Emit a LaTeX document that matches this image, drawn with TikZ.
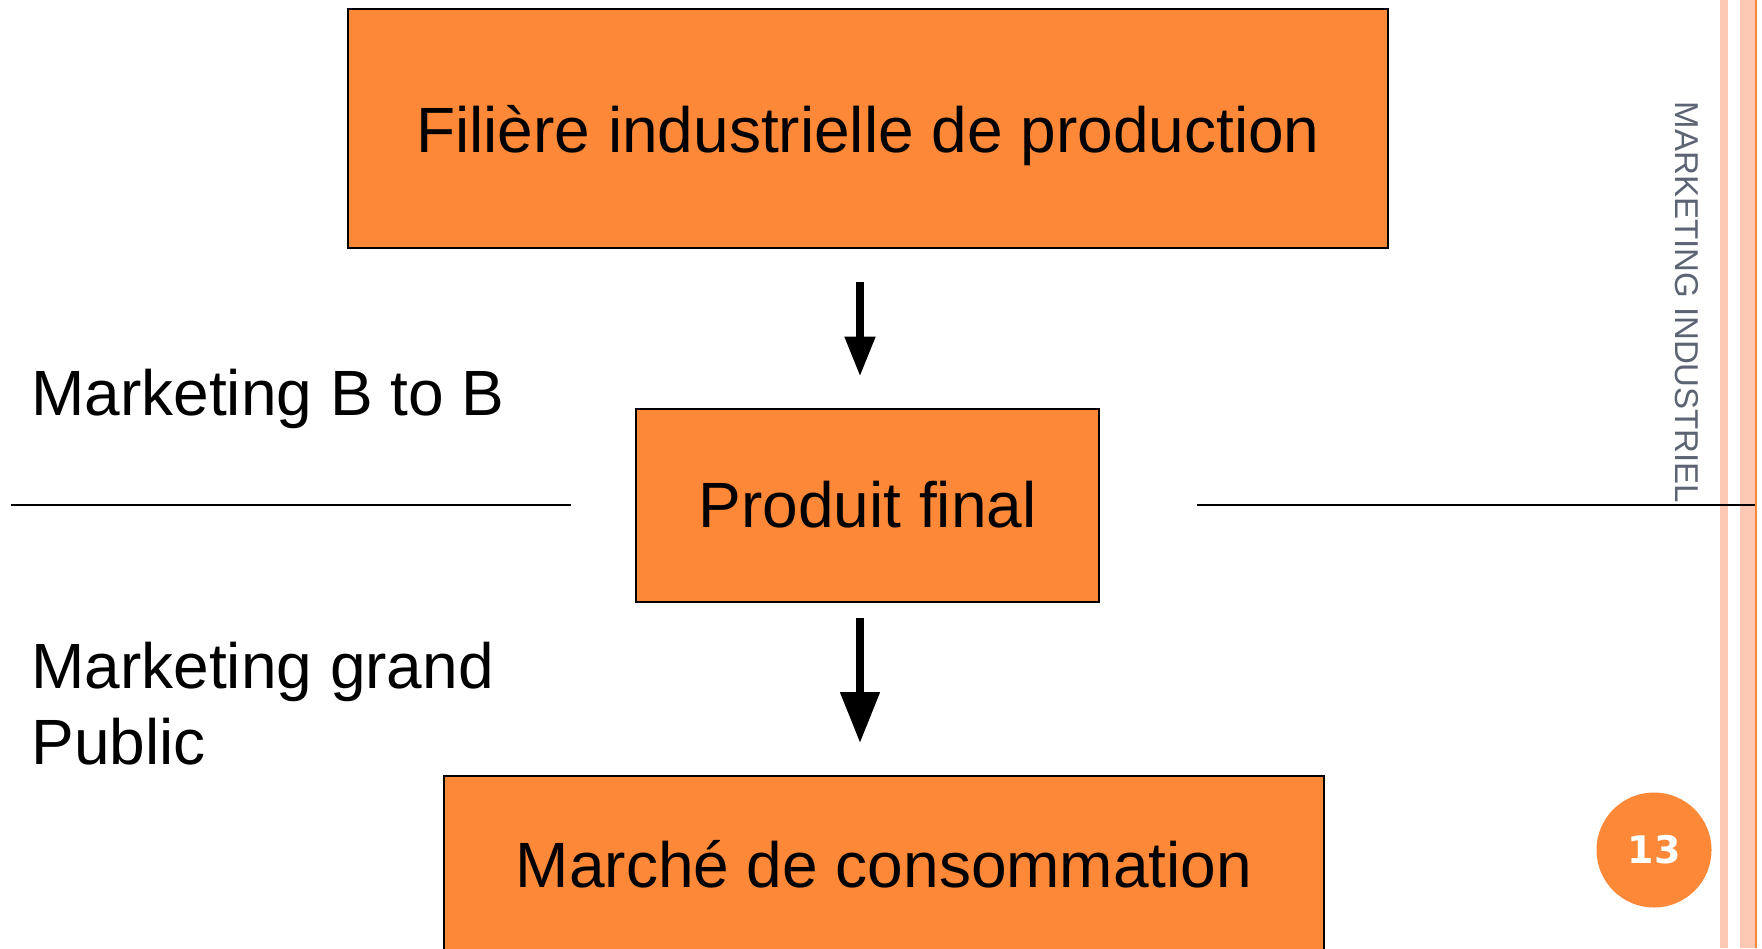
\documentclass[tikz,border=0pt]{standalone}
\usepackage{fontspec}
\setmainfont{Liberation Sans}
\newfontfamily\numfont{DejaVu Sans}
\usetikzlibrary{arrows.meta}
\definecolor{boxorange}{RGB}{253,136,56}
\definecolor{stripe}{RGB}{252,200,180}
\definecolor{sidegray}{RGB}{92,100,116}
\tikzset{
  flowbox/.style={draw=black, line width=1pt, fill=boxorange, inner sep=0pt, font=\fontsize{32}{38}\selectfont},
  sidelabel/.style={anchor=base west, inner sep=0pt, align=left, font=\fontsize{32}{38}\selectfont},
  sepline/.style={line width=1.1pt, black},
}
\begin{document}
\begin{tikzpicture}[x=0.5pt, y=-0.5pt]
\useasboundingbox (0,0) rectangle (1762,948);
\fill[white] (0,0) rectangle (1762,948);
\clip (0,0) rectangle (1762,948);
% decorative stripes
\fill[stripe] (1720,0) rectangle (1728,948);
\fill[stripe] (1740,0) rectangle (1755,948);
\fill[boxorange] (1755,0) rectangle (1757,948);
% boxes
\node[flowbox, text depth=0pt, minimum width=520pt, minimum height=119.5pt] (filiere) at (868,128.5) {Filière industrielle de production};
\node[flowbox, minimum width=231.5pt, minimum height=96.5pt] (produit) at (867.5,505) {Produit final};
\node[flowbox, minimum width=440pt, minimum height=88pt] (marche) at (884,864) {Marché de consommation};
% arrows
\coordinate (ax) at (860,0);
\draw[line width=4pt, -{Triangle[width=14.5pt,length=20pt]}, shorten <=16.5pt, shorten >=15.5pt] (filiere.south -| ax) -- (produit.north -| ax);
\draw[line width=4pt, -{Triangle[width=19pt,length=25.5pt]}, shorten <=7.5pt, shorten >=16pt] (produit.south -| ax) -- (marche.north -| ax);
% separator lines
\coordinate (l1) at (11,505);
\coordinate (l2) at (571,505);
\coordinate (r1) at (1197,505);
\coordinate (r2) at (1755,505);
\draw[sepline] (l1) -- (l2);
\draw[sepline] (r1) -- (r2);
% side labels
\node[sidelabel] (b2b) at (31,415) {Marketing B to B};
\node[sidelabel] (gp) at (31,764) {Marketing grand\\Public};
% vertical title
\node[rotate=-90, inner sep=0pt, text=sidegray, font=\fontsize{16.5}{18}\selectfont] (title) at (1687,302.5) {MARKETING INDUSTRIEL};
% page number
\node[circle, fill=boxorange, minimum size=57.5pt, inner sep=0pt, text=white, font=\numfont\bfseries\fontsize{19}{20}\selectfont] (page) at (1654,850) {13};
\end{tikzpicture}
\end{document}
